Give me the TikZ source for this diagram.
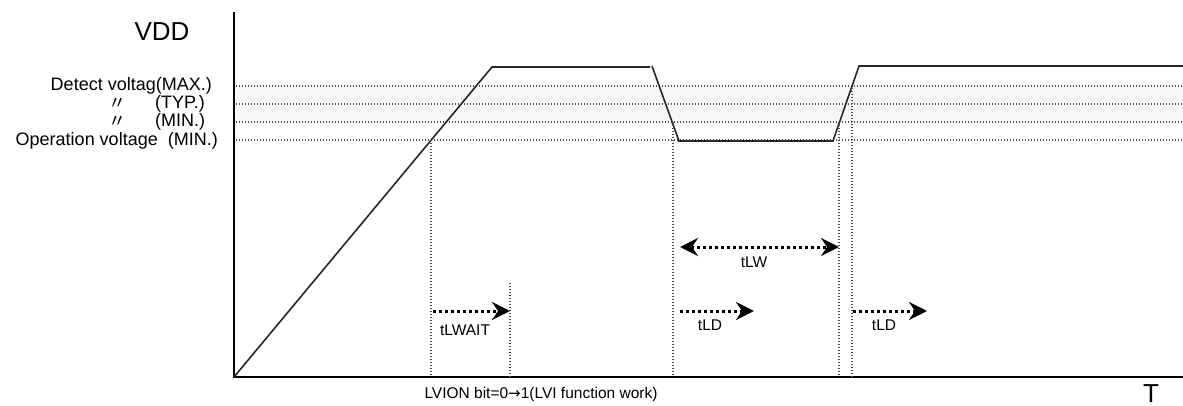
\documentclass[tikz,border=0pt]{standalone}
\usepackage{fontspec}
\setmainfont{Liberation Sans}
\newfontfamily\cjk{Noto Sans CJK JP}
\usetikzlibrary{arrows.meta}

\tikzset{
  guide/.style={line width=1.1pt, gray!60!black, dash pattern=on 1.2pt off 1.8pt},
  timing/.style={line width=3pt, dash pattern=on 3pt off 3pt,
    -{Stealth[length=18pt, width=18pt, inset=6pt]}},
  levellabel/.style={font=\fontsize{18}{19}\selectfont, inner sep=0pt},
  timelabel/.style={font=\fontsize{15.5}{17}\selectfont, inner sep=0pt}
}

\begin{document}
\begin{tikzpicture}[x=1pt, y=-1pt]

  \useasboundingbox (0,0) rectangle (1183,406);

  % axes
  \coordinate (O) at (234,377);
  \coordinate (ytop) at (234,12);
  \coordinate (xend) at (1183,377);

  % detect band
  \fill[gray!6] (236,86) rectangle (1183,122);

  % voltage levels
  \foreach \lv in {86,104,122,140}
    \draw[guide] (236,\lv) -- (1183,\lv);

  \draw[line width=1.6pt] (ytop) -- (O) -- (xend);

  % VDD waveform
  \coordinate (p1) at (492,67);
  \coordinate (p2) at (650,67);
  \coordinate (p3) at (652,66);
  \coordinate (p4) at (679,141);
  \coordinate (p5) at (833,141);
  \coordinate (p6) at (859,66);
  \coordinate (p7) at (1183,66);
  \draw[line width=1.6pt, black!85] (O) -- (p1) -- (p2);
  \draw[line width=1.6pt, black!85] (p3) -- (p4) -- (p5) -- (p6) -- (p7);

  % time marks
  \coordinate (on) at (431,140);
  \coordinate (onb) at (431,377);
  \coordinate (wt) at (510,283);
  \coordinate (wtb) at (510,377);
  \coordinate (dn) at (673,122);
  \coordinate (dnb) at (673,377);
  \coordinate (up) at (839,122);
  \coordinate (upb) at (839,377);
  \coordinate (mx) at (852,88);
  \coordinate (mxb) at (852,377);
  \draw[guide] (on) -- (onb);
  \draw[guide] (wt) -- (wtb);
  \draw[guide] (dn) -- (dnb);
  \draw[guide] (up) -- (upb);
  \draw[guide] (mx) -- (mxb);

  % timing arrows
  \coordinate (a1) at (433,311);
  \coordinate (a2) at (510,311);
  \coordinate (w1) at (680,247);
  \coordinate (w2) at (839,247);
  \coordinate (d1) at (680,311);
  \coordinate (d2) at (754,311);
  \coordinate (e1) at (853,311);
  \coordinate (e2) at (927,311);
  \draw[timing] (a1) -- (a2);
  \draw[timing, {Stealth[length=18pt, width=18pt, inset=6pt]}-{Stealth[length=18pt, width=18pt, inset=6pt]}] (w1) -- (w2);
  \draw[timing] (d1) -- (d2);
  \draw[timing] (e1) -- (e2);

  \node[timelabel] (lwait) at (465,330) {tLWAIT};
  \node[timelabel] (lw) at (754,262) {tLW};
  \node[timelabel] (ld1) at (710,325) {tLD};
  \node[timelabel] (ld2) at (884,325) {tLD};

  % labels
  \node[font=\fontsize{26}{28}\selectfont, inner sep=0pt] (vdd) at (162,32) {VDD};
  \node[font=\fontsize{26}{28}\selectfont, inner sep=0pt, anchor=base] (tlab) at (1151,402) {T};
  \node[timelabel] (lvion) at (541,394) {LVION bit=0{\fontspec{DejaVu Sans}\fontsize{15}{17}\selectfont →}1(LVI function work)};

  \node[levellabel, anchor=east] (lmax) at (212,86) {Detect voltag(MAX.)};
  \node[levellabel, anchor=west] (ltyp) at (155,104) {(TYP.)};
  \node[levellabel] (dtyp) at (117,104) {\cjk 〃};
  \node[levellabel, anchor=west] (lmin) at (155,122) {(MIN.)};
  \node[levellabel] (dmin) at (117,122) {\cjk 〃};
  \node[levellabel, anchor=east] (lop) at (218,141) {Operation voltage\ \ (MIN.)};

\end{tikzpicture}
\end{document}
